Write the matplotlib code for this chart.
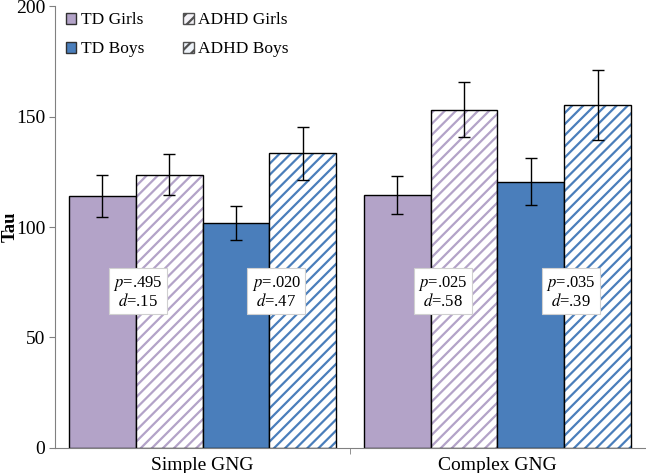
import numpy as np
import matplotlib
matplotlib.use("Agg")
from matplotlib import pyplot as plt
from matplotlib.patches import Patch

plt.rcParams['font.family'] = ['Liberation Serif', 'DejaVu Serif']
plt.rcParams['mathtext.fontset'] = 'stix'
plt.rcParams['hatch.linewidth'] = 1.6

tasks = ["Simple GNG", "Complex GNG"]
groups = ["TD Girls", "ADHD Girls", "TD Boys", "ADHD Boys"]
means = {
    "TD Girls": [114.1, 114.7],
    "ADHD Girls": [123.7, 153.1],
    "TD Boys": [102.0, 120.6],
    "ADHD Boys": [133.5, 155.4],
}
errs = {
    "TD Girls": [9.6, 8.6],
    "ADHD Girls": [9.3, 12.5],
    "TD Boys": [7.7, 10.5],
    "ADHD Boys": [12.0, 15.8],
}
p_vals = [".495", ".020", ".025", ".035"]
d_vals = [".15", ".47", ".58", ".39"]

lav = "#B3A3C8"
blue = "#4A7EBB"
fills = {"TD Girls": lav, "ADHD Girls": "white", "TD Boys": blue, "ADHD Boys": "white"}
hatches = {"TD Girls": None, "ADHD Girls": lav, "TD Boys": None, "ADHD Boys": blue}

fig = plt.figure(figsize=(6.46, 4.73), dpi=100)
ax = fig.add_axes([55 / 646, 25.5 / 473, 590 / 646, 441 / 473])

x = np.arange(len(tasks))
w = 0.227
for i, g in enumerate(groups):
    pos = x + (i - 1.5) * w
    if hatches[g]:
        ax.bar(pos, means[g], w, color="white", edgecolor=hatches[g], hatch="///", linewidth=0)
        ax.bar(pos, means[g], w, fill=False, edgecolor="black", linewidth=1)
    else:
        ax.bar(pos, means[g], w, color=fills[g], edgecolor="black", linewidth=1)
    ax.errorbar(pos, means[g], yerr=errs[g], fmt="none", ecolor="black", elinewidth=1, capsize=4, capthick=1)

# stat boxes straddling TD / ADHD bars
box_x = [-0.22, 0.25, 0.815, 1.25]
for bx, p, d in zip(box_x, p_vals, d_vals):
    ax.text(bx, 70.5, "$\\it{p}$=" + p + "\n" + "$\\it{d}$=" + d, ha="center", va="center",
            fontsize=12, linespacing=1.0,
            bbox=dict(boxstyle="square,pad=0.25", facecolor="white", edgecolor="#D0D0D0", linewidth=0.8))

ax.set_xlim(-0.5, 1.5)
ax.set_ylim(0, 200)
ax.set_yticks([0, 50, 100, 150, 200])
ax.set_xticks(x)
ax.set_xticklabels(tasks, fontsize=14)
ax.set_xticks([0.5], minor=True)
ax.tick_params(axis="x", which="major", length=0, pad=7)
ax.tick_params(axis="x", which="minor", length=4, color="#808080")
ax.tick_params(axis="y", labelsize=14, length=4, color="#808080", pad=3)
ax.set_ylabel("Tau", fontsize=13.5, fontweight="bold")
ax.yaxis.set_label_coords(-0.062, 0.5)
for side in ["top", "right"]:
    ax.spines[side].set_visible(False)
for side in ["left", "bottom"]:
    ax.spines[side].set_color("#808080")

handles = [
    Patch(facecolor=lav, edgecolor="#303030", label="TD Girls"),
    Patch(facecolor=blue, edgecolor="#303030", label="TD Boys"),
    Patch(facecolor="#F4F2F7", edgecolor="#505050", hatch="///", label="ADHD Girls"),
    Patch(facecolor="#EEF3F9", edgecolor="#505050", hatch="///", label="ADHD Boys"),
]
ax.legend(handles=handles, ncol=2, loc="upper left", bbox_to_anchor=(-0.008, 1.022), frameon=False,
          fontsize=12.5, handlelength=0.6, handleheight=0.6, handletextpad=0.25, columnspacing=2.25,
          labelspacing=0.75)

fig.savefig("out.png", dpi=100)
